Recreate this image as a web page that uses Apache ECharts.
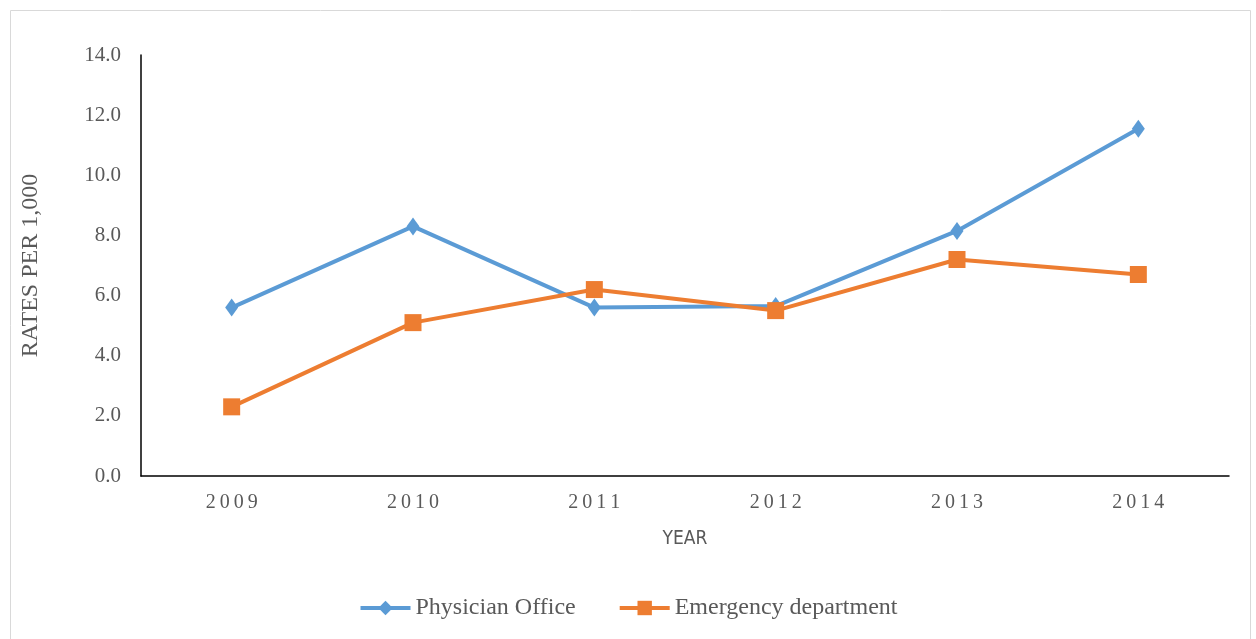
<!DOCTYPE html>
<html>
<head>
<meta charset="utf-8">
<script src="https://cdn.jsdelivr.net/npm/echarts@6/dist/echarts.min.js"></script>
<style>
  html, body {margin: 0; padding: 0; background: #fff;}
  #chart {width: 1256px; height: 639px;}
</style>
</head>
<body>
<div id="chart"></div>
<script>
const years = ['2009', '2010', '2011', '2012', '2013', '2014'];
const physicianOffice = [5.6, 8.3, 5.6, 5.65, 8.15, 11.55];
const emergencyDept = [2.3, 5.1, 6.2, 5.5, 7.2, 6.7];

const chart = echarts.init(document.getElementById('chart'));
const serif = '"Liberation Serif", "DejaVu Serif", serif';

chart.setOption({
  animation: false,
  color: ['#5b9bd5', '#ed7d31'],
  graphic: [{
    type: 'rect',
    shape: {x: 10.5, y: 10.5, width: 1240, height: 640},
    style: {fill: 'none', stroke: '#d9d9d9', lineWidth: 1}
  }],
  grid: {left: 141, right: 27, top: 55, bottom: 163},
  legend: {
    top: 591,
    left: 'center',
    itemWidth: 50,
    itemHeight: 18,
    itemGap: 42,
    lineStyle: {width: 4},
    textStyle: {fontFamily: serif, fontSize: 24, color: '#595959'},
    data: ['Physician Office', 'Emergency department']
  },
  xAxis: {
    type: 'category',
    data: years,
    name: 'YEAR',
    nameLocation: 'middle',
    nameGap: 54,
    nameTextStyle: {fontFamily: '"Liberation Sans Narrow", "DejaVu Sans Condensed", sans-serif', fontSize: 19, color: '#595959'},
    axisLine: {lineStyle: {color: '#000', width: 1.5}},
    axisTick: {show: false},
    axisLabel: {
      margin: 17,
      fontFamily: serif,
      fontSize: 20,
      color: '#595959',
      formatter: v => v.split('').join('\u2009')
    }
  },
  yAxis: {
    type: 'value',
    min: 0,
    max: 14,
    interval: 2,
    name: 'RATES PER 1,000',
    nameLocation: 'middle',
    nameGap: 98,
    nameTextStyle: {fontFamily: serif, fontSize: 24, color: '#595959'},
    axisLine: {show: true, lineStyle: {color: '#000', width: 1.5}},
    axisTick: {show: false},
    splitLine: {show: false},
    axisLabel: {
      margin: 20,
      fontFamily: serif,
      fontSize: 21,
      color: '#595959',
      formatter: v => v.toFixed(1)
    }
  },
  series: [
    {
      name: 'Physician Office',
      type: 'line',
      data: physicianOffice,
      symbol: 'diamond',
      symbolSize: [13, 18],
      lineStyle: {width: 4},
      itemStyle: {color: '#5b9bd5'}
    },
    {
      name: 'Emergency department',
      type: 'line',
      data: emergencyDept,
      symbol: 'rect',
      symbolSize: 17,
      lineStyle: {width: 4},
      itemStyle: {color: '#ed7d31'}
    }
  ]
});
</script>
</body>
</html>
